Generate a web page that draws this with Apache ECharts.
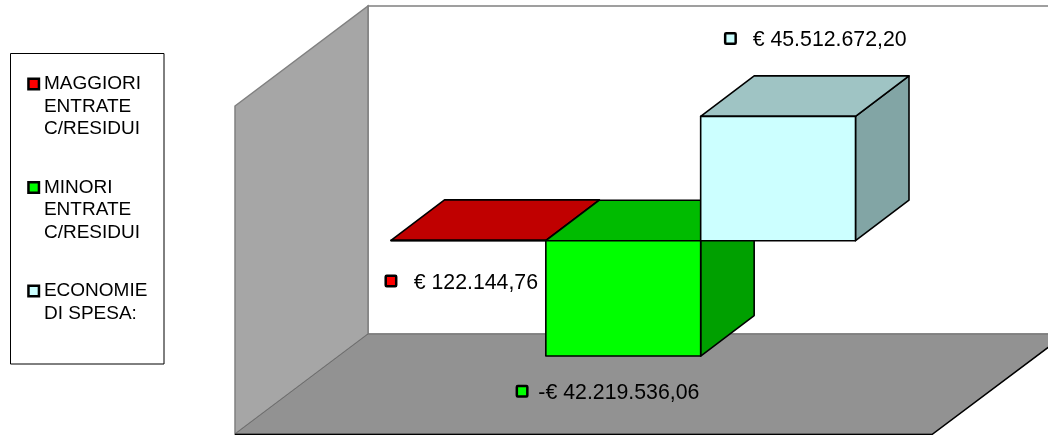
<!DOCTYPE html>
<html><head><meta charset="utf-8">
<style>html,body{margin:0;padding:0;background:#fff}#c{width:1048px;height:435px}</style>
<script src="https://cdn.jsdelivr.net/npm/echarts@6/dist/echarts.min.js"></script>
</head><body><div id="c"></div>
<script>
const categories = ['MAGGIORI ENTRATE C/RESIDUI', 'MINORI ENTRATE C/RESIDUI', 'ECONOMIE DI SPESA:'];
const values = [122144.76, -42219536.06, 45512672.20];
const valueLabels = ['€ 122.144,76', '-€ 42.219.536,06', '€ 45.512.672,20'];
const legendLines = [
  ['MAGGIORI', 'ENTRATE', 'C/RESIDUI'],
  ['MINORI', 'ENTRATE', 'C/RESIDUI'],
  ['ECONOMIE', 'DI SPESA:', '']
];

const FONT = '"Liberation Sans", Arial, sans-serif';
const faces = [
  {front: '#ff0000', top: '#c00000', side: '#a00000'},
  {front: '#00ff00', top: '#00bb00', side: '#00a000'},
  {front: '#ccffff', top: '#9fc4c4', side: '#82a5a5'}
];
const DX = 53.5, DY = -40.5;
// label placement relative to each bar's front-left corner / value end
const labelOffsets = [
  {mx: -5.3, my: 35.5, tx: 22.7},
  {mx: -29, my: 30, tx: -7.5},
  {mx: 24.5, my: -83, tx: 52}
];

function makeRender(i) {
  return function (params, api) {
    const idx = api.value(0), v = api.value(1);
    const w = api.size([1, 0])[0];
    const cx = api.coord([idx, 0])[0];
    const x0 = cx - w / 2, x1 = cx + w / 2;
    const y0 = api.coord([idx, 0])[1], yv = api.coord([idx, v])[1];
    const t = Math.min(y0, yv), b = Math.max(y0, yv);
    const line = {stroke: '#000', lineWidth: 1.6, lineJoin: 'round'};
    const poly = (pts, fill) => ({type: 'polygon', shape: {points: pts}, style: Object.assign({fill}, line)});
    const o = labelOffsets[i], f = faces[i];
    return {
      type: 'group',
      children: [
        poly([[x1, t], [x1 + DX, t + DY], [x1 + DX, b + DY], [x1, b]], f.side),
        poly([[x0, t], [x1, t], [x1 + DX, t + DY], [x0 + DX, t + DY]], f.top),
        poly([[x0, t], [x1, t], [x1, b], [x0, b]], f.front),
        {type: 'rect', shape: {x: x0 + o.mx, y: yv + o.my, width: 10.5, height: 10.5, r: 1},
         style: {fill: f.front, stroke: '#000', lineWidth: 2.5}},
        {type: 'text', style: {x: x0 + o.tx, y: yv + o.my + 7, text: valueLabels[i],
         fill: '#000', font: '21.3px ' + FONT, verticalAlign: 'middle', align: 'left'}}
      ]
    };
  };
}

const chart = echarts.init(document.getElementById('c'), null, {renderer: 'canvas'});
const wallStroke = '#808080';
chart.setOption({
  animation: false,
  backgroundColor: '#fff',
  tooltip: {show: false},
  grid: {left: 391, width: 464.5, top: 76.8, height: 327.8},
  xAxis: {type: 'category', data: categories, show: false},
  yAxis: {type: 'value', min: -60000000, max: 60000000, show: false},
  legend: {
    show: true, orient: 'vertical', left: 27.2, top: 28, padding: 0,
    itemWidth: 10.5, itemHeight: 10.5, itemGap: -8.5, icon: 'rect', selectedMode: false,
    data: categories,
    itemStyle: {borderColor: '#000', borderWidth: 2.5},
    textStyle: {fontFamily: FONT, fontSize: 19, color: '#000', lineHeight: 22.4},
    formatter: name => {
      const l = legendLines[categories.indexOf(name)];
      return ['', ''].concat(l).join('\n');
    }
  },
  graphic: [
    {type: 'rect', z: -2, shape: {x: 10.5, y: 53.5, width: 153.5, height: 310.5},
     style: {fill: '#fff', stroke: '#000', lineWidth: 1}},
    {type: 'polygon', z: -2, shape: {points: [[368, 6], [1100, 6], [1100, 334], [368, 334]]},
     style: {fill: '#fff', stroke: wallStroke, lineWidth: 1.5}},
    {type: 'polygon', z: -1, shape: {points: [[235, 106], [368, 6], [368, 334], [235, 434]]},
     style: {fill: '#a6a6a6', stroke: wallStroke, lineWidth: 1.5}},
    {type: 'polygon', z: -1, shape: {points: [[235, 434], [368, 334], [1066, 334], [932, 434]]},
     style: {fill: '#929292', stroke: '#6e6e6e', lineWidth: 1}},
    {type: 'polyline', z: -1, shape: {points: [[235, 434.5], [932, 434.5], [1066, 334]]},
     style: {fill: null, stroke: '#000', lineWidth: 1.5}}
  ],
  series: categories.map((name, i) => ({
    type: 'custom', name, z: 2,
    coordinateSystem: 'cartesian2d',
    itemStyle: {color: faces[i].front},
    encode: {x: 0, y: 1},
    clip: false,
    silent: true,
    data: [[i, values[i]]],
    renderItem: makeRender(i)
  }))
});
</script></body></html>
